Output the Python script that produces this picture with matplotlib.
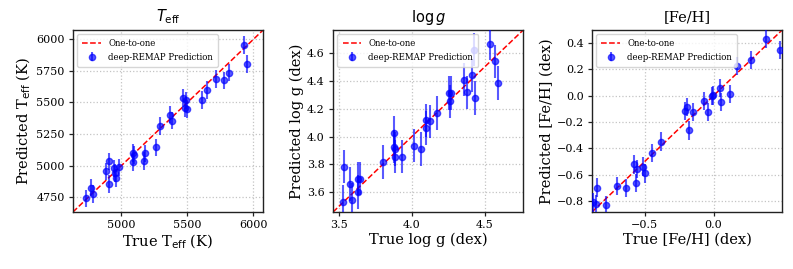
import numpy as np
import matplotlib
matplotlib.use("Agg")
import matplotlib.pyplot as plt

# values
teff_true = [4733, 4766, 4783, 4884, 4904, 4904, 4940, 4947, 4959, 4980, 5085, 5098, 5085, 5178, 5174,
             5261, 5292, 5370, 5382, 5465, 5486, 5483, 5495, 5612, 5647, 5717, 5780, 5818, 5931, 5954]
teff_pred = [4740, 4825, 4772, 4953, 5032, 4851, 4977, 4939, 4899, 4985, 5099, 5083, 5024, 5096, 5037,
             5144, 5312, 5404, 5356, 5537, 5516, 5455, 5450, 5521, 5599, 5683, 5675, 5737, 5955, 5806]
teff_err = [70] * len(teff_true)

logg_true = [3.528, 3.534, 3.573, 3.585, 3.626, 3.642, 3.631, 3.798, 3.874, 3.886, 3.883, 3.929, 3.879,
             4.012, 4.065, 4.094, 4.099, 4.127, 4.175, 4.255, 4.271, 4.264, 4.358, 4.379, 4.416, 4.432,
             4.425, 4.535, 4.570, 4.592]
logg_pred = [3.532, 3.784, 3.658, 3.545, 3.698, 3.698, 3.600, 3.816, 3.928, 3.909, 3.856, 3.856, 4.024,
             3.935, 3.911, 4.060, 4.115, 4.108, 4.168, 4.312, 4.312, 4.252, 4.408, 4.317, 4.439, 4.276,
             4.624, 4.667, 4.540, 4.384]
logg_err = [0.12] * len(logg_true)

feh_true = [-0.876, -0.852, -0.844, -0.779, -0.699, -0.640, -0.582, -0.560, -0.565, -0.512, -0.500,
            -0.451, -0.383, -0.211, -0.194, -0.180, -0.151, -0.071, -0.041, -0.012, -0.005, 0.044,
            0.051, 0.122, 0.173, 0.274, 0.378, 0.485]
feh_pred = [-0.812, -0.825, -0.699, -0.832, -0.687, -0.704, -0.523, -0.556, -0.666, -0.540, -0.591,
            -0.435, -0.350, -0.115, -0.088, -0.264, -0.125, -0.040, -0.123, -0.002, 0.002, 0.056,
            -0.050, 0.011, 0.224, 0.269, 0.433, 0.345]
feh_err = [0.07] * len(feh_true)

plt.rcParams['font.family'] = 'DejaVu Serif'

fig = plt.figure(figsize=(7.93, 2.69), dpi=100)

panels = [
    (teff_true, teff_pred, teff_err, (4632, 6075), r'$T_{\rm eff}$',
     r'True T$_{\rm eff}$ (K)', r'Predicted T$_{\rm eff}$ (K)', [5000, 5500, 6000], [4750, 5000, 5250, 5500, 5750, 6000]),
    (logg_true, logg_pred, logg_err, (3.458, 4.766), r'$\log g$',
     'True log g (dex)', 'Predicted log g (dex)', [3.5, 4.0, 4.5], [3.6, 3.8, 4.0, 4.2, 4.4, 4.6]),
    (feh_true, feh_pred, feh_err, (-0.884, 0.5), '[Fe/H]',
     'True [Fe/H] (dex)', 'Predicted [Fe/H] (dex)', [-0.5, 0.0], [-0.8, -0.6, -0.4, -0.2, 0.0, 0.2, 0.4]),
]
lefts = [0.092, 0.420, 0.7465]

for left, (xt, yp, ye, lims, title, xl, yl, xticks, yticks) in zip(lefts, panels):
    ax = fig.add_axes([left, 0.212, 0.240, 0.677])
    ax.plot(lims, lims, 'r--', lw=1.1, label='One-to-one', zorder=2)
    ax.errorbar(xt, yp, yerr=ye, fmt='o', color='blue', ms=4.5, elinewidth=1.5,
                alpha=0.65, label='deep-REMAP Prediction', zorder=3)
    ax.set_xlim(lims)
    ax.set_ylim(lims)
    ax.set_xticks(xticks)
    ax.set_yticks(yticks)
    ax.grid(True, ls=':', color='#c4c4c4', lw=0.9)
    ax.set_axisbelow(True)
    ax.tick_params(length=3, width=0.9, color='#222222', labelsize=8, pad=3)
    for s in ax.spines.values():
        s.set_color('#222222')
        s.set_linewidth(1.0)
    ax.set_title(title, fontsize=10.5, pad=6)
    ax.set_xlabel(xl, fontsize=10.5, labelpad=2)
    ax.set_ylabel(yl, fontsize=10.5, labelpad=2)
    ax.legend(loc='upper left', fontsize=6.2, framealpha=0.8, borderpad=0.6, handlelength=2.2)

fig.savefig('out.png', dpi=100)
